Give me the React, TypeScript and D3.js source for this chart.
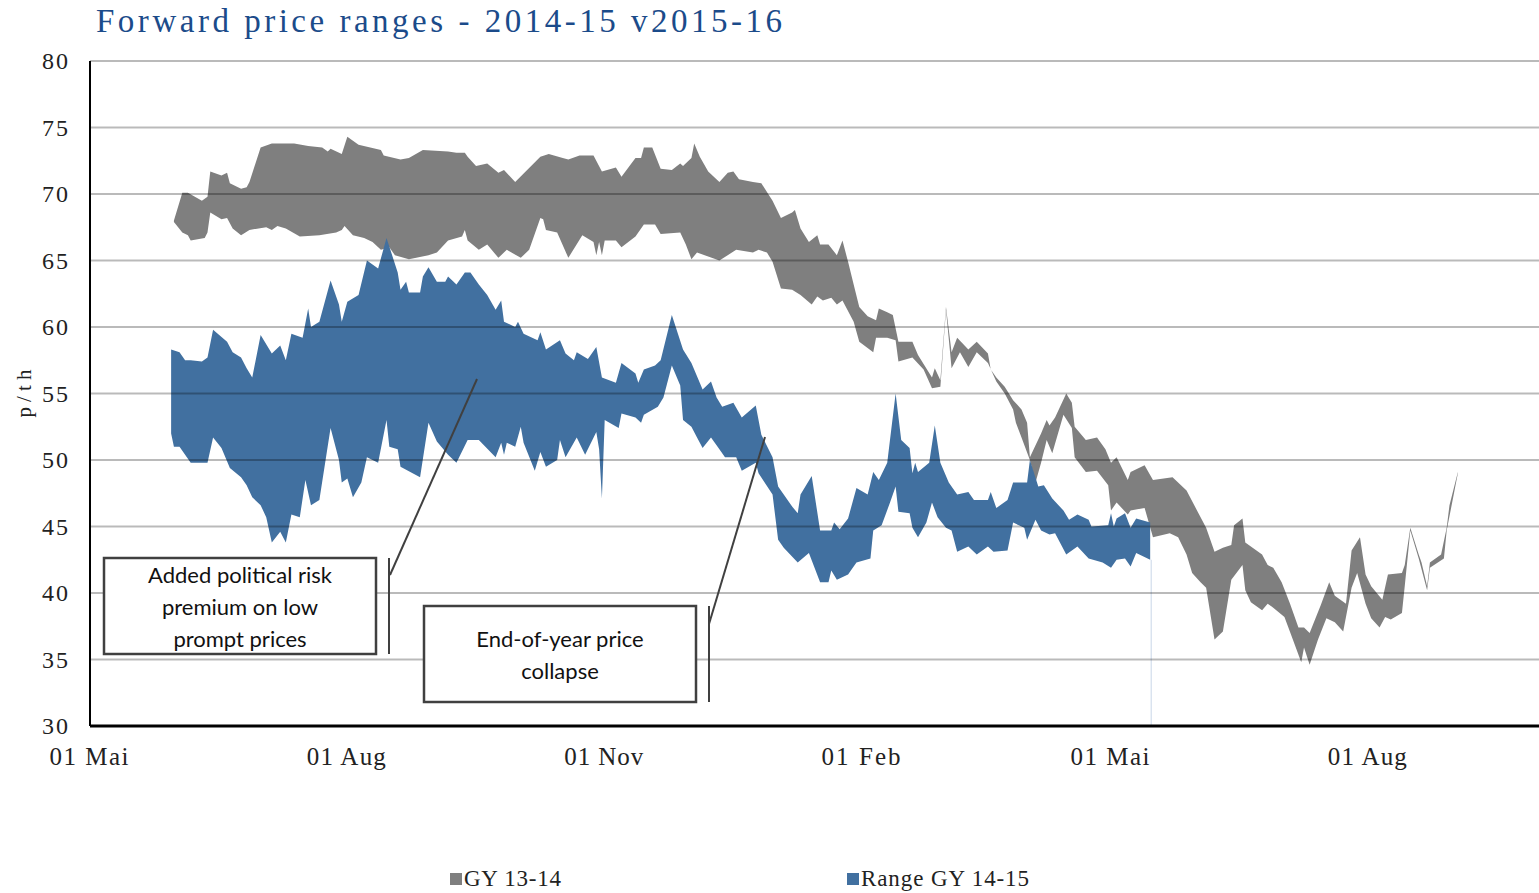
import React, { useEffect, useRef } from "react";
import * as d3 from "d3";

type Pt = [string, number];

// GY 13-14 forward range (upper / lower edge)
const grayHigh: Pt[] = [
  ["2014-05-31", 68.0], ["2014-06-03", 70.1], ["2014-06-05", 70.1], ["2014-06-10", 69.5], ["2014-06-12", 69.8],
  ["2014-06-13", 71.7], ["2014-06-17", 71.4], ["2014-06-19", 71.6], ["2014-06-20", 70.8], ["2014-06-24", 70.4],
  ["2014-06-26", 70.5], ["2014-06-27", 70.9], ["2014-07-01", 73.5], ["2014-07-05", 73.8], ["2014-07-09", 73.8],
  ["2014-07-13", 73.8], ["2014-07-18", 73.6], ["2014-07-23", 73.5], ["2014-07-25", 73.2], ["2014-07-26", 73.4],
  ["2014-07-30", 73.0], ["2014-08-01", 74.3], ["2014-08-05", 73.7], ["2014-08-13", 73.3], ["2014-08-14", 72.9],
  ["2014-08-20", 72.6], ["2014-08-23", 72.7], ["2014-08-28", 73.3], ["2014-09-06", 73.2], ["2014-09-09", 73.1],
  ["2014-09-12", 73.1], ["2014-09-13", 72.8], ["2014-09-16", 72.1], ["2014-09-20", 72.3], ["2014-09-24", 71.6],
  ["2014-09-26", 71.8], ["2014-09-30", 70.9], ["2014-10-09", 72.8], ["2014-10-12", 73.0], ["2014-10-17", 72.7],
  ["2014-10-19", 72.6], ["2014-10-23", 72.9], ["2014-10-28", 72.9], ["2014-10-31", 71.7], ["2014-11-05", 72.0],
  ["2014-11-07", 71.3], ["2014-11-12", 72.7], ["2014-11-14", 72.7], ["2014-11-15", 73.5], ["2014-11-18", 73.5],
  ["2014-11-21", 71.9], ["2014-11-25", 71.8], ["2014-11-28", 72.3], ["2014-11-29", 72.1], ["2014-12-02", 72.7],
  ["2014-12-03", 73.8], ["2014-12-05", 72.8], ["2014-12-08", 71.7], ["2014-12-12", 70.9], ["2014-12-15", 71.6],
  ["2014-12-17", 71.7], ["2014-12-19", 71.1], ["2014-12-24", 70.9], ["2014-12-27", 70.8], ["2014-12-31", 69.5],
  ["2015-01-03", 68.2], ["2015-01-07", 68.6], ["2015-01-08", 68.8], ["2015-01-10", 67.4], ["2015-01-13", 66.4],
  ["2015-01-16", 66.9], ["2015-01-17", 66.2], ["2015-01-20", 66.2], ["2015-01-23", 65.4], ["2015-01-25", 66.5],
  ["2015-01-27", 64.9], ["2015-01-29", 63.2], ["2015-01-31", 61.5], ["2015-02-03", 60.8], ["2015-02-06", 60.5],
  ["2015-02-07", 61.4], ["2015-02-10", 61.1], ["2015-02-12", 60.9], ["2015-02-14", 58.9], ["2015-02-19", 58.9],
  ["2015-02-21", 57.9], ["2015-02-26", 56.2], ["2015-02-27", 56.9], ["2015-03-01", 56.0], ["2015-03-03", 61.5],
  ["2015-03-05", 58.1], ["2015-03-07", 59.2], ["2015-03-11", 58.3], ["2015-03-14", 58.9], ["2015-03-18", 58.0],
  ["2015-03-19", 56.8], ["2015-03-21", 56.2], ["2015-03-24", 55.5], ["2015-03-27", 54.5], ["2015-03-30", 53.8],
  ["2015-04-01", 52.8], ["2015-04-02", 50.2], ["2015-04-06", 52.0], ["2015-04-08", 53.0], ["2015-04-09", 52.6],
  ["2015-04-11", 53.2], ["2015-04-15", 55.0], ["2015-04-17", 54.3], ["2015-04-18", 52.5], ["2015-04-22", 51.5],
  ["2015-04-26", 51.7], ["2015-04-29", 50.8], ["2015-05-01", 49.8], ["2015-05-03", 50.2], ["2015-05-07", 48.5],
  ["2015-05-08", 49.1], ["2015-05-13", 49.6], ["2015-05-16", 48.5], ["2015-05-23", 48.7], ["2015-05-28", 47.7],
  ["2015-05-31", 46.5], ["2015-06-04", 44.9], ["2015-06-07", 43.1], ["2015-06-10", 43.4], ["2015-06-13", 43.6],
  ["2015-06-14", 45.1], ["2015-06-17", 45.6], ["2015-06-18", 43.8], ["2015-06-20", 43.5], ["2015-06-24", 42.9],
  ["2015-06-26", 42.1], ["2015-06-28", 41.9], ["2015-07-01", 40.8], ["2015-07-04", 39.2], ["2015-07-07", 37.4],
  ["2015-07-09", 37.4], ["2015-07-11", 37.0], ["2015-07-15", 39.1], ["2015-07-18", 40.8], ["2015-07-20", 39.8],
  ["2015-07-24", 39.2], ["2015-07-26", 43.2], ["2015-07-29", 44.2], ["2015-07-31", 41.4], ["2015-08-02", 40.5],
  ["2015-08-06", 39.5], ["2015-08-08", 41.4], ["2015-08-13", 41.5], ["2015-08-14", 42.1], ["2015-08-16", 44.9],
  ["2015-08-19", 42.9], ["2015-08-20", 42.3], ["2015-08-22", 40.5], ["2015-08-23", 42.3], ["2015-08-27", 42.9],
  ["2015-08-29", 44.9], ["2015-08-30", 46.6], ["2015-09-02", 49.1],
];

const grayLow: Pt[] = [
  ["2014-05-31", 67.9], ["2014-06-03", 67.1], ["2014-06-05", 66.9], ["2014-06-06", 66.5], ["2014-06-11", 66.7],
  ["2014-06-12", 67.1], ["2014-06-13", 68.6], ["2014-06-17", 68.1], ["2014-06-19", 68.2], ["2014-06-21", 67.4],
  ["2014-06-24", 66.9], ["2014-06-27", 67.3], ["2014-07-03", 67.5], ["2014-07-05", 67.3], ["2014-07-07", 67.6],
  ["2014-07-10", 67.4], ["2014-07-15", 66.8], ["2014-07-22", 66.9], ["2014-07-28", 67.1], ["2014-07-30", 67.3],
  ["2014-07-31", 67.6], ["2014-08-03", 66.9], ["2014-08-07", 66.7], ["2014-08-10", 66.4], ["2014-08-13", 65.8],
  ["2014-08-16", 66.0], ["2014-08-18", 65.4], ["2014-08-23", 65.1], ["2014-08-30", 65.4], ["2014-09-02", 65.6],
  ["2014-09-06", 66.5], ["2014-09-11", 66.8], ["2014-09-12", 67.3], ["2014-09-13", 66.5], ["2014-09-17", 65.8],
  ["2014-09-20", 66.2], ["2014-09-24", 65.2], ["2014-09-27", 65.8], ["2014-10-02", 65.2], ["2014-10-05", 65.8],
  ["2014-10-09", 68.2], ["2014-10-10", 68.1], ["2014-10-11", 67.3], ["2014-10-15", 67.1], ["2014-10-19", 65.2],
  ["2014-10-24", 66.9], ["2014-10-28", 66.4], ["2014-10-29", 65.4], ["2014-10-30", 66.4], ["2014-10-31", 65.4],
  ["2014-11-01", 66.5], ["2014-11-05", 66.5], ["2014-11-07", 66.0], ["2014-11-12", 66.8], ["2014-11-15", 67.7],
  ["2014-11-19", 67.7], ["2014-11-21", 67.0], ["2014-11-28", 67.1], ["2014-11-30", 66.2], ["2014-12-02", 65.1],
  ["2014-12-04", 65.6], ["2014-12-12", 65.0], ["2014-12-18", 65.8], ["2014-12-24", 65.6], ["2014-12-26", 65.8],
  ["2014-12-29", 65.6], ["2014-12-31", 64.9], ["2015-01-03", 62.9], ["2015-01-07", 62.8], ["2015-01-10", 62.4],
  ["2015-01-14", 61.7], ["2015-01-16", 62.3], ["2015-01-18", 62.0], ["2015-01-21", 62.2], ["2015-01-23", 61.7],
  ["2015-01-25", 62.0], ["2015-01-29", 60.4], ["2015-01-31", 58.9], ["2015-02-05", 58.1], ["2015-02-06", 59.2],
  ["2015-02-10", 59.2], ["2015-02-13", 59.0], ["2015-02-14", 57.4], ["2015-02-19", 57.7], ["2015-02-23", 56.8],
  ["2015-02-26", 55.4], ["2015-03-01", 55.5], ["2015-03-03", 61.3], ["2015-03-05", 56.9], ["2015-03-08", 58.1],
  ["2015-03-11", 57.0], ["2015-03-14", 58.1], ["2015-03-18", 57.3], ["2015-03-21", 55.9], ["2015-03-24", 55.0],
  ["2015-03-27", 53.8], ["2015-03-28", 52.8], ["2015-03-30", 51.7], ["2015-04-02", 50.0], ["2015-04-04", 48.3],
  ["2015-04-06", 49.8], ["2015-04-08", 51.5], ["2015-04-10", 50.5], ["2015-04-14", 53.4], ["2015-04-17", 52.4],
  ["2015-04-18", 50.2], ["2015-04-22", 49.1], ["2015-04-26", 49.2], ["2015-04-30", 48.1], ["2015-05-01", 46.2],
  ["2015-05-03", 46.8], ["2015-05-07", 45.9], ["2015-05-08", 46.2], ["2015-05-13", 46.4], ["2015-05-16", 44.2],
  ["2015-05-22", 44.5], ["2015-05-25", 44.2], ["2015-05-28", 42.9], ["2015-05-30", 41.5], ["2015-06-02", 40.8],
  ["2015-06-04", 40.4], ["2015-06-07", 36.5], ["2015-06-10", 37.1], ["2015-06-13", 41.0], ["2015-06-17", 42.1],
  ["2015-06-18", 40.2], ["2015-06-20", 39.3], ["2015-06-24", 38.7], ["2015-06-26", 39.2], ["2015-06-28", 38.9],
  ["2015-07-02", 38.2], ["2015-07-05", 36.5], ["2015-07-08", 34.8], ["2015-07-09", 35.9], ["2015-07-11", 34.6],
  ["2015-07-14", 36.5], ["2015-07-17", 38.1], ["2015-07-20", 37.8], ["2015-07-23", 37.1], ["2015-07-26", 40.4],
  ["2015-07-28", 41.5], ["2015-07-31", 39.2], ["2015-08-02", 38.1], ["2015-08-05", 37.4], ["2015-08-07", 38.2],
  ["2015-08-09", 38.0], ["2015-08-13", 38.5], ["2015-08-14", 40.5], ["2015-08-16", 44.7], ["2015-08-19", 42.6],
  ["2015-08-21", 41.0], ["2015-08-22", 40.2], ["2015-08-23", 41.9], ["2015-08-28", 42.6], ["2015-08-29", 44.7],
  ["2015-09-02", 49.0],
];

// Range GY 14-15 (upper / lower edge)
const blueHigh: Pt[] = [
  ["2014-05-30", 58.3], ["2014-06-02", 58.1], ["2014-06-04", 57.5], ["2014-06-06", 57.5], ["2014-06-10", 57.4],
  ["2014-06-12", 57.7], ["2014-06-14", 59.8], ["2014-06-19", 58.9], ["2014-06-21", 58.1], ["2014-06-24", 57.7],
  ["2014-06-26", 56.9], ["2014-06-28", 56.2], ["2014-07-01", 59.4], ["2014-07-03", 58.7], ["2014-07-05", 58.0],
  ["2014-07-08", 58.6], ["2014-07-10", 57.5], ["2014-07-12", 59.5], ["2014-07-16", 59.2], ["2014-07-18", 61.4],
  ["2014-07-19", 60.0], ["2014-07-22", 60.4], ["2014-07-26", 63.5], ["2014-07-29", 61.7], ["2014-07-30", 60.4],
  ["2014-08-01", 61.9], ["2014-08-05", 62.4], ["2014-08-08", 65.0], ["2014-08-12", 64.4], ["2014-08-15", 66.7],
  ["2014-08-19", 64.1], ["2014-08-20", 62.8], ["2014-08-22", 63.4], ["2014-08-23", 62.6], ["2014-08-27", 62.6],
  ["2014-08-28", 63.8], ["2014-08-30", 64.5], ["2014-09-02", 63.4], ["2014-09-05", 63.4], ["2014-09-06", 63.8],
  ["2014-09-09", 63.2], ["2014-09-12", 64.1], ["2014-09-14", 64.1], ["2014-09-17", 63.2], ["2014-09-20", 62.4],
  ["2014-09-23", 61.3], ["2014-09-25", 62.0], ["2014-09-26", 60.4], ["2014-09-30", 60.0], ["2014-10-01", 60.4],
  ["2014-10-03", 59.5], ["2014-10-08", 59.0], ["2014-10-09", 59.6], ["2014-10-11", 58.3], ["2014-10-16", 59.0],
  ["2014-10-18", 58.0], ["2014-10-21", 57.5], ["2014-10-22", 58.1], ["2014-10-26", 57.6], ["2014-10-29", 58.5],
  ["2014-10-31", 56.2], ["2014-11-05", 55.8], ["2014-11-07", 57.3], ["2014-11-12", 56.5], ["2014-11-13", 55.8],
  ["2014-11-15", 56.8], ["2014-11-19", 57.1], ["2014-11-21", 57.5], ["2014-11-25", 60.9], ["2014-11-29", 58.3],
  ["2014-12-02", 57.3], ["2014-12-06", 55.3], ["2014-12-09", 55.9], ["2014-12-11", 54.7], ["2014-12-13", 54.0],
  ["2014-12-17", 54.3], ["2014-12-20", 53.2], ["2014-12-25", 54.1], ["2014-12-27", 51.9], ["2014-12-31", 50.2],
  ["2015-01-02", 48.0], ["2015-01-07", 46.5], ["2015-01-09", 46.0], ["2015-01-10", 47.4], ["2015-01-14", 48.8],
  ["2015-01-17", 44.7], ["2015-01-21", 44.7], ["2015-01-22", 45.3], ["2015-01-24", 44.8], ["2015-01-27", 45.6],
  ["2015-01-30", 47.9], ["2015-02-03", 47.4], ["2015-02-05", 49.1], ["2015-02-07", 48.5], ["2015-02-10", 49.8],
  ["2015-02-13", 55.0], ["2015-02-15", 51.5], ["2015-02-18", 50.9], ["2015-02-19", 49.0], ["2015-02-20", 49.8],
  ["2015-02-21", 49.1], ["2015-02-25", 49.8], ["2015-02-27", 52.6], ["2015-03-01", 49.8], ["2015-03-04", 48.3],
  ["2015-03-07", 47.4], ["2015-03-11", 47.6], ["2015-03-13", 47.0], ["2015-03-18", 47.0], ["2015-03-19", 47.6],
  ["2015-03-21", 46.4], ["2015-03-25", 47.0], ["2015-03-27", 48.3], ["2015-04-01", 48.3], ["2015-04-02", 50.0],
  ["2015-04-05", 48.0], ["2015-04-07", 48.1], ["2015-04-10", 47.1], ["2015-04-14", 46.2], ["2015-04-16", 45.5],
  ["2015-04-19", 45.9], ["2015-04-23", 45.5], ["2015-04-24", 45.0], ["2015-04-30", 45.1], ["2015-05-01", 46.0],
  ["2015-05-02", 45.0], ["2015-05-03", 45.6], ["2015-05-06", 46.0], ["2015-05-08", 44.9], ["2015-05-10", 45.6],
  ["2015-05-15", 45.3],
];

const blueLow: Pt[] = [
  ["2014-05-30", 52.0], ["2014-05-31", 51.0], ["2014-06-02", 51.0], ["2014-06-04", 50.4], ["2014-06-06", 49.8],
  ["2014-06-12", 49.8], ["2014-06-14", 51.7], ["2014-06-17", 50.9], ["2014-06-20", 49.4], ["2014-06-24", 48.7],
  ["2014-06-26", 48.1], ["2014-06-28", 47.2], ["2014-07-01", 46.6], ["2014-07-03", 45.7], ["2014-07-05", 43.8],
  ["2014-07-08", 44.6], ["2014-07-10", 43.8], ["2014-07-12", 45.9], ["2014-07-15", 45.7], ["2014-07-17", 48.5],
  ["2014-07-19", 46.6], ["2014-07-22", 47.0], ["2014-07-26", 52.4], ["2014-07-29", 50.0], ["2014-07-30", 48.3],
  ["2014-08-01", 48.6], ["2014-08-03", 47.2], ["2014-08-06", 48.3], ["2014-08-08", 50.2], ["2014-08-12", 49.8],
  ["2014-08-15", 53.0], ["2014-08-16", 51.0], ["2014-08-19", 50.8], ["2014-08-20", 49.5], ["2014-08-27", 48.7],
  ["2014-08-30", 52.8], ["2014-09-02", 51.4], ["2014-09-06", 50.4], ["2014-09-09", 49.8], ["2014-09-13", 51.5],
  ["2014-09-17", 51.5], ["2014-09-23", 50.2], ["2014-09-25", 51.3], ["2014-09-26", 50.4], ["2014-09-27", 51.3],
  ["2014-09-30", 51.0], ["2014-10-02", 52.5], ["2014-10-03", 51.3], ["2014-10-07", 49.2], ["2014-10-09", 50.6],
  ["2014-10-11", 49.5], ["2014-10-15", 50.0], ["2014-10-16", 51.5], ["2014-10-18", 50.2], ["2014-10-22", 51.7],
  ["2014-10-25", 50.4], ["2014-10-29", 52.1], ["2014-10-30", 50.8], ["2014-10-31", 47.1], ["2014-11-01", 53.0],
  ["2014-11-06", 52.4], ["2014-11-07", 53.5], ["2014-11-12", 53.2], ["2014-11-14", 52.8], ["2014-11-15", 53.4],
  ["2014-11-20", 54.0], ["2014-11-22", 54.7], ["2014-11-25", 57.1], ["2014-11-28", 55.6], ["2014-11-29", 53.0],
  ["2014-12-02", 52.5], ["2014-12-04", 51.7], ["2014-12-06", 50.9], ["2014-12-09", 51.7], ["2014-12-12", 50.8],
  ["2014-12-14", 50.2], ["2014-12-18", 50.2], ["2014-12-20", 49.2], ["2014-12-25", 49.8], ["2014-12-26", 49.0],
  ["2014-12-31", 47.4], ["2015-01-02", 44.0], ["2015-01-04", 43.4], ["2015-01-09", 42.3], ["2015-01-13", 43.0],
  ["2015-01-17", 40.8], ["2015-01-20", 40.8], ["2015-01-21", 41.7], ["2015-01-23", 41.0], ["2015-01-27", 41.4],
  ["2015-01-30", 42.3], ["2015-02-04", 42.6], ["2015-02-05", 44.7], ["2015-02-08", 45.1], ["2015-02-11", 46.8],
  ["2015-02-13", 48.0], ["2015-02-14", 46.1], ["2015-02-18", 46.0], ["2015-02-19", 44.9], ["2015-02-21", 44.2],
  ["2015-02-24", 45.3], ["2015-02-26", 46.8], ["2015-02-28", 45.7], ["2015-03-03", 44.9], ["2015-03-05", 44.7],
  ["2015-03-07", 43.1], ["2015-03-11", 43.5], ["2015-03-14", 42.9], ["2015-03-18", 43.5], ["2015-03-20", 43.1],
  ["2015-03-25", 43.2], ["2015-03-27", 45.3], ["2015-03-31", 44.9], ["2015-04-01", 44.0], ["2015-04-04", 45.5],
  ["2015-04-06", 44.7], ["2015-04-09", 44.4], ["2015-04-11", 44.5], ["2015-04-15", 42.9], ["2015-04-19", 43.5],
  ["2015-04-23", 42.6], ["2015-04-28", 42.3], ["2015-05-01", 41.9], ["2015-05-03", 42.5], ["2015-05-06", 42.6],
  ["2015-05-08", 42.0], ["2015-05-10", 43.0], ["2015-05-15", 42.5],
];

const yTicks = [30, 35, 40, 45, 50, 55, 60, 65, 70, 75, 80];
const xTickDates = ["2014-05-01", "2014-08-01", "2014-11-01", "2015-02-01", "2015-05-01", "2015-08-01"];
const xTickLabels = ["01 Mai", "01 Aug", "01 Nov", "01 Feb", "01 Mai", "01 Aug"];
const seriesNames = ["GY 13-14", "Range GY 14-15"];
const seriesColors = ["#7f7f7f", "#4170a0"];
const noteTexts = [
  ["Added political risk", "premium on low", "prompt prices"],
  ["End-of-year price", "collapse"],
];

const W = 1539;
const H = 893;
const SERIF = "'Liberation Serif', 'DejaVu Serif', serif";
const SANS = "Lato, 'Open Sans', 'Liberation Sans', sans-serif";

function App() {
  const ref = useRef<SVGSVGElement>(null);

  useEffect(() => {
    if (!ref.current) return;
    const svg = d3.select(ref.current);
    svg.selectAll("*").remove();

    const parse = d3.timeParse("%Y-%m-%d");
    const left = 90, right = 1539, top = 61, bottom = 726;

    const x = d3.scaleTime()
      .domain([parse("2014-05-01")!, parse("2015-10-01")!])
      .range([left, right]);
    const y = d3.scaleLinear().domain([30, 80]).range([bottom, top]);

    // title
    svg.append("text")
      .attr("x", 96).attr("y", 32)
      .attr("font-family", SERIF).attr("font-size", 33)
      .attr("fill", "#1b4b8a")
      .attr("textLength", 686).attr("lengthAdjust", "spacing")
      .text("Forward price ranges - 2014-15 v2015-16");

    // range bands
    const edge = d3.line<Pt>().x(d => x(parse(d[0])!)).y(d => y(d[1]));
    const band = (hi: Pt[], lo: Pt[]) => edge([...hi, ...lo.slice().reverse()]) + "Z";

    svg.append("path").attr("d", band(grayHigh, grayLow)).attr("fill", seriesColors[0]);
    svg.append("path").attr("d", band(blueHigh, blueLow)).attr("fill", seriesColors[1]);

    // thin drop at end of blue series
    const lastBlue = blueLow[blueLow.length - 1];
    svg.append("line")
      .attr("x1", x(parse(lastBlue[0])!) + 1).attr("x2", x(parse(lastBlue[0])!) + 1)
      .attr("y1", y(lastBlue[1])).attr("y2", y(30))
      .attr("stroke", "#c9d6e8").attr("stroke-width", 1);

    // gridlines
    svg.append("g").selectAll("line")
      .data(yTicks.filter(t => t > 30))
      .join("line")
      .attr("x1", left).attr("x2", right)
      .attr("y1", d => y(d)).attr("y2", d => y(d))
      .attr("stroke", "rgba(0,0,0,0.27)").attr("stroke-width", 2.2);

    // axes lines
    svg.append("line").attr("x1", left).attr("x2", left).attr("y1", top).attr("y2", bottom)
      .attr("stroke", "#000").attr("stroke-width", 2);
    svg.append("line").attr("x1", left).attr("x2", right).attr("y1", bottom).attr("y2", bottom)
      .attr("stroke", "#000").attr("stroke-width", 3);

    // y tick labels
    svg.append("g").selectAll("text")
      .data(yTicks)
      .join("text")
      .attr("x", 68).attr("y", d => y(d) + 8)
      .attr("text-anchor", "end")
      .attr("font-family", SERIF).attr("font-size", 24).attr("fill", "#222")
      .attr("textLength", 26).attr("lengthAdjust", "spacing")
      .text(d => String(d));

    // x tick labels
    svg.append("g").selectAll("text")
      .data(xTickDates.map((d, i) => ({ d, label: xTickLabels[i] })))
      .join("text")
      .attr("x", d => x(parse(d.d)!) - 1).attr("y", 765)
      .attr("text-anchor", "middle")
      .attr("font-family", SERIF).attr("font-size", 25).attr("fill", "#222")
      .attr("textLength", 79).attr("lengthAdjust", "spacing")
      .text(d => d.label);

    // y axis title
    svg.append("text")
      .attr("transform", `translate(31,${(top + bottom) / 2}) rotate(-90)`)
      .attr("text-anchor", "middle")
      .attr("font-family", SERIF).attr("font-size", 21).attr("fill", "#222")
      .attr("textLength", 48).attr("lengthAdjust", "spacing")
      .text("p/th");

    // annotations
    const notes = [
      { box: [104, 558, 272, 96], bar: [389, 558, 654], lead: [390, 575, 477, 379], lines: noteTexts[0], base: 583 },
      { box: [424, 606, 272, 96], bar: [709, 606, 702], lead: [709, 624, 765, 437], lines: noteTexts[1], base: 647 },
    ];
    notes.forEach(n => {
      const g = svg.append("g");
      g.append("rect")
        .attr("x", n.box[0]).attr("y", n.box[1]).attr("width", n.box[2]).attr("height", n.box[3])
        .attr("fill", "#fff").attr("stroke", "#404040").attr("stroke-width", 2.5);
      g.append("line")
        .attr("x1", n.bar[0]).attr("x2", n.bar[0]).attr("y1", n.bar[1]).attr("y2", n.bar[2])
        .attr("stroke", "#404040").attr("stroke-width", 2);
      g.append("line")
        .attr("x1", n.lead[0]).attr("y1", n.lead[1]).attr("x2", n.lead[2]).attr("y2", n.lead[3])
        .attr("stroke", "#404040").attr("stroke-width", 2);
      g.selectAll("text.note")
        .data(n.lines)
        .join("text")
        .attr("class", "note")
        .attr("x", n.box[0] + n.box[2] / 2)
        .attr("y", (_, i) => n.base + i * 32)
        .attr("text-anchor", "middle")
        .attr("font-family", SANS).attr("font-size", 22).attr("fill", "#111")
        .text(d => d);
    });

    // legend
    const legendX = [450, 847];
    const legendW = [97, 168];
    seriesNames.forEach((name, i) => {
      svg.append("rect")
        .attr("x", legendX[i]).attr("y", 873).attr("width", 12).attr("height", 12)
        .attr("fill", seriesColors[i]);
      svg.append("text")
        .attr("x", legendX[i] + 14).attr("y", 886)
        .attr("font-family", SERIF).attr("font-size", 23).attr("fill", "#222")
        .attr("textLength", legendW[i]).attr("lengthAdjust", "spacing")
        .text(name);
    });
  }, []);

  return (
    <svg
      ref={ref}
      width={W}
      height={H}
      style={{ position: "absolute", left: 0, top: 0, display: "block", background: "#fff" }}
    />
  );
}

export default App;
